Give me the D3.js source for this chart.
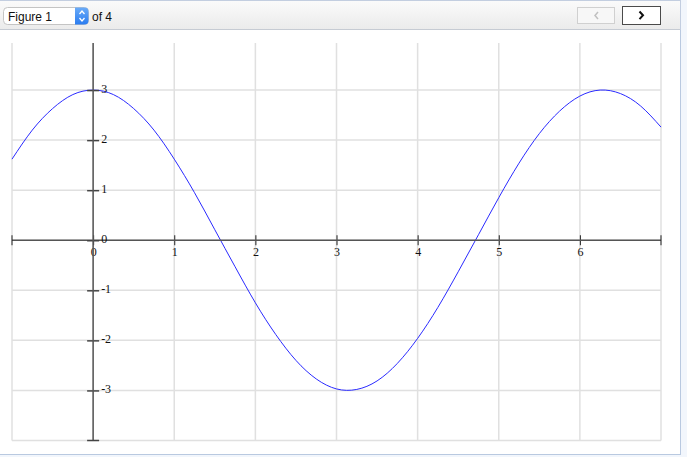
<!DOCTYPE html>
<html>
<head>
<meta charset="utf-8">
<script src="https://cdn.jsdelivr.net/npm/d3@7"></script>
<style>
  html, body { margin: 0; padding: 0; background: #ffffff; }
  svg { display: block; }
</style>
</head>
<body>
<script>
// ---- data ----
const xValues = [-1, -0.75, -0.5, -0.25, 0, 0.25, 0.5, 0.75, 1, 1.25, 1.5, 1.75, 2, 2.25, 2.5, 2.75, 3, 3.25, 3.5, 3.75, 4, 4.25, 4.5, 4.75, 5, 5.25, 5.5, 5.75, 6, 6.25, 6.5, 6.75, 7];
const yValues = [1.62, 2.20, 2.63, 2.91, 3.00, 2.91, 2.63, 2.20, 1.62, 0.95, 0.21, -0.53, -1.25, -1.88, -2.40, -2.77, -2.97, -2.98, -2.81, -2.46, -1.96, -1.34, -0.63, 0.11, 0.85, 1.54, 2.13, 2.58, 2.88, 3.00, 2.93, 2.68, 2.26];
const xTicks = [0, 1, 2, 3, 4, 5, 6];
const yTicks = [-3, -2, -1, 0, 1, 2, 3];
const xGrid = [-1, 0, 1, 2, 3, 4, 5, 6, 7];
const yGrid = [-4, -3, -2, -1, 0, 1, 2, 3];
const figureLabel = "Figure 1";
const pageLabel = "of 4";

const W = 687, H = 457;
const svg = d3.select("body").append("svg").attr("width", W).attr("height", H);

// ---- window frame ----
svg.append("rect").attr("x", 0).attr("y", 0).attr("width", W).attr("height", H).attr("fill", "#f2f6fc");
svg.append("rect").attr("x", 0).attr("y", 30).attr("width", 680).attr("height", 424).attr("fill", "#ffffff");
svg.append("line").attr("x1", 680.5).attr("x2", 680.5).attr("y1", 30).attr("y2", 455).attr("stroke", "#b9c9e0");
svg.append("line").attr("x1", 0).attr("x2", 681).attr("y1", 454.5).attr("y2", 454.5).attr("stroke", "#b9c9e0");

// ---- toolbar ----
const defs = svg.append("defs");
const tg = defs.append("linearGradient").attr("id", "tb").attr("x1", 0).attr("y1", 0).attr("x2", 0).attr("y2", 1);
tg.append("stop").attr("offset", "0%").attr("stop-color", "#fbfbfb");
tg.append("stop").attr("offset", "100%").attr("stop-color", "#ebebeb");
const bg = defs.append("linearGradient").attr("id", "blue").attr("x1", 0).attr("y1", 0).attr("x2", 0).attr("y2", 1);
bg.append("stop").attr("offset", "0%").attr("stop-color", "#6aabf8");
bg.append("stop").attr("offset", "100%").attr("stop-color", "#2a7cf0");

svg.append("rect").attr("x", 0).attr("y", 0).attr("width", 681).attr("height", 29).attr("fill", "url(#tb)");
svg.append("line").attr("x1", 0).attr("x2", 681).attr("y1", 0.5).attr("y2", 0.5).attr("stroke", "#c3cee0");
svg.append("line").attr("x1", 0).attr("x2", 681).attr("y1", 29.5).attr("y2", 29.5).attr("stroke", "#c6cbd3");
svg.append("line").attr("x1", 680.5).attr("x2", 680.5).attr("y1", 0).attr("y2", 30).attr("stroke", "#c3cee0");

// select box
svg.append("rect").attr("x", 3.5).attr("y", 7.5).attr("width", 85).attr("height", 17).attr("rx", 4)
  .attr("fill", "#ffffff").attr("stroke", "#c4c4c4");
svg.append("path").attr("d", "M75,7.5 h9.5 a4,4 0 0 1 4,4 v9 a4,4 0 0 1 -4,4 h-9.5 z").attr("fill", "url(#blue)");
svg.append("path").attr("d", "M79.5,14 l2.5,-3 l2.5,3 M79.5,18 l2.5,3 l2.5,-3")
  .attr("fill", "none").attr("stroke", "#ffffff").attr("stroke-width", 1.3);
svg.append("text").attr("x", 8).attr("y", 20.5).text(figureLabel)
  .attr("font-family", "Liberation Sans, Arial, sans-serif").attr("font-size", 12).attr("fill", "#111");
svg.append("text").attr("x", 92).attr("y", 20.5).text(pageLabel)
  .attr("font-family", "Liberation Sans, Arial, sans-serif").attr("font-size", 12).attr("fill", "#111");

// nav buttons
svg.append("rect").attr("x", 577.5).attr("y", 7.5).attr("width", 37).attr("height", 16)
  .attr("fill", "#f7f7f7").attr("stroke", "#d0d0d0");
svg.append("path").attr("d", "M598,12 l-3,3.5 l3,3.5").attr("fill", "none").attr("stroke", "#c0c0c0").attr("stroke-width", 1.5);
svg.append("rect").attr("x", 622.5).attr("y", 6.5).attr("width", 38).attr("height", 18)
  .attr("fill", "#ffffff").attr("stroke", "#4a4a4a");
svg.append("path").attr("d", "M639.5,11.5 l3.5,3.8 l-3.5,3.8").attr("fill", "none").attr("stroke", "#111").attr("stroke-width", 2);

// ---- plot ----
const x = d3.scaleLinear().domain([-1, 7]).range([12, 661]);
const y = d3.scaleLinear().domain([-4, 3.94]).range([440.5, 43]);
const g = svg.append("g");
const fmt = d => String(d);

// grid
g.selectAll(".vg").data(xGrid).enter().append("line")
  .attr("x1", d => x(d)).attr("x2", d => x(d)).attr("y1", y(3.94)).attr("y2", y(-4))
  .attr("stroke", "#e0e0e0").attr("stroke-width", 1.5);
g.selectAll(".hg").data(yGrid).enter().append("line")
  .attr("x1", x(-1)).attr("x2", x(7)).attr("y1", d => y(d)).attr("y2", d => y(d))
  .attr("stroke", "#e0e0e0").attr("stroke-width", 1.5);

// curve
const line = d3.line().x((d, i) => x(xValues[i])).y(d => y(d)).curve(d3.curveNatural);
g.append("path").datum(yValues).attr("d", line)
  .attr("fill", "none").attr("stroke", "#2a2aff").attr("stroke-width", 1);

// x axis (at y=0)
const xAxis = d3.axisBottom(x).tickValues(xTicks).tickSize(0).tickPadding(0).tickFormat(fmt);
const xa = g.append("g").attr("transform", `translate(0,${y(0)})`).call(xAxis);
xa.select(".domain").remove();
xa.append("line").attr("x1", x(-1)).attr("x2", x(7)).attr("stroke", "#555").attr("stroke-width", 1.5);
xa.selectAll(".tick").append("line").attr("y1", -5).attr("y2", 5).attr("stroke", "#222").attr("stroke-width", 1);
[-1, 7].forEach(v => xa.append("line").attr("x1", x(v)).attr("x2", x(v)).attr("y1", -5).attr("y2", 5).attr("stroke", "#222"));
xa.selectAll(".tick text").attr("y", 7).attr("dy", "0.71em")
  .attr("font-family", "Liberation Serif, Times New Roman, serif").attr("font-size", 12).attr("fill", "#111");

// y axis (at x=0)
const yAxis = d3.axisRight(y).tickValues(yTicks).tickSize(0).tickPadding(0).tickFormat(fmt);
const ya = g.append("g").attr("transform", `translate(${x(0)},0)`).call(yAxis);
ya.select(".domain").remove();
ya.append("line").attr("y1", y(3.94)).attr("y2", y(-4)).attr("stroke", "#555").attr("stroke-width", 1.5);
ya.selectAll(".tick").append("line").attr("x1", -6).attr("x2", 6).attr("stroke", "#444").attr("stroke-width", 1.5);
ya.append("line").attr("x1", -6).attr("x2", 6).attr("y1", y(-4)).attr("y2", y(-4)).attr("stroke", "#444").attr("stroke-width", 1.5);
ya.selectAll(".tick text").attr("x", 8).attr("dy", "0.2em")
  .attr("font-family", "Liberation Serif, Times New Roman, serif").attr("font-size", 12).attr("fill", "#111");
</script>
</body>
</html>
